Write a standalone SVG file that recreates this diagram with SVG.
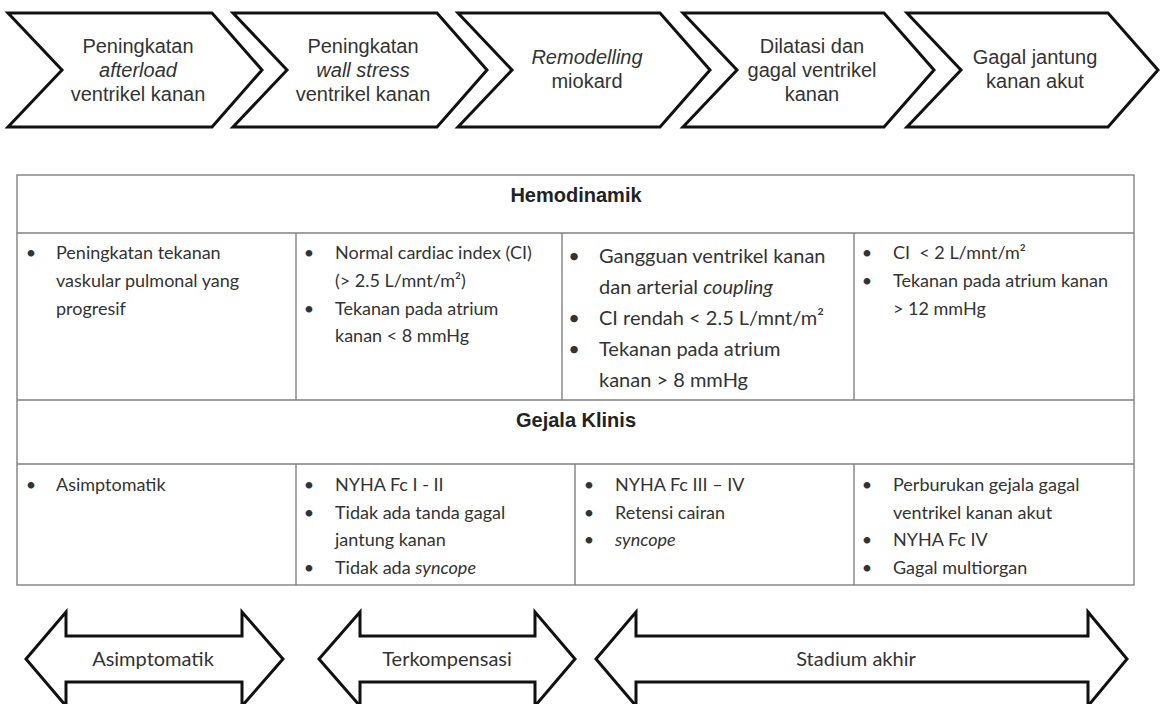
<svg xmlns="http://www.w3.org/2000/svg" width="1160" height="704" viewBox="0 0 1160 704">
<style>
.chev{fill:#fff;stroke:#111;stroke-width:3;stroke-linejoin:miter}
.ct{font-family:"Liberation Sans",Arial,sans-serif;font-size:20px;fill:#333;text-anchor:middle}
.it{font-style:italic}
.grid{fill:none;stroke:#808080;stroke-width:1.4}
.hd{font-family:"Liberation Sans",Arial,sans-serif;font-weight:bold;font-size:20px;fill:#222;text-anchor:middle}
.tx{font-family:Lato,"Open Sans",sans-serif;font-size:18px;fill:#333}
.tx2{font-family:Lato,"Open Sans",sans-serif;font-size:20px;fill:#333}
.bu{text-anchor:middle}
.arr{fill:#fff;stroke:#111;stroke-width:3;stroke-linejoin:miter}
.at{font-family:Lato,"Open Sans",sans-serif;font-size:20px;fill:#333;text-anchor:middle}
</style>
<rect width="1160" height="704" fill="#fff"/>

<g id="step1">
<polygon class="chev" points="8,13 212,13 262,70 212,127 8,127 62,70"/>
<text class="ct" x="138" y="53">Peningkatan</text>
<text class="ct it" x="138" y="77">afterload</text>
<text class="ct" x="138" y="101">ventrikel kanan</text>
</g>
<g id="step2">
<polygon class="chev" points="233,13 437,13 487,70 437,127 233,127 287,70"/>
<text class="ct" x="363" y="53">Peningkatan</text>
<text class="ct it" x="363" y="77">wall stress</text>
<text class="ct" x="363" y="101">ventrikel kanan</text>
</g>
<g id="step3">
<polygon class="chev" points="458,13 660,13 710,70 660,127 458,127 512,70"/>
<text class="ct it" x="587" y="64">Remodelling</text>
<text class="ct" x="587" y="88">miokard</text>
</g>
<g id="step4">
<polygon class="chev" points="683,13 884,13 934,70 884,127 683,127 737,70"/>
<text class="ct" x="812" y="53">Dilatasi dan</text>
<text class="ct" x="812" y="77">gagal ventrikel</text>
<text class="ct" x="812" y="101">kanan</text>
</g>
<g id="step5">
<polygon class="chev" points="907,13 1108,13 1158,70 1108,127 907,127 961,70"/>
<text class="ct" x="1035" y="64">Gagal jantung</text>
<text class="ct" x="1035" y="88">kanan akut</text>
</g>

<g id="table">
<rect class="grid" x="17" y="175" width="1117" height="410"/>
<line class="grid" x1="17" y1="233" x2="1134" y2="233"/>
<line class="grid" x1="17" y1="400" x2="1134" y2="400"/>
<line class="grid" x1="17" y1="464" x2="1134" y2="464"/>
<line class="grid" x1="296" y1="233" x2="296" y2="400"/>
<line class="grid" x1="562" y1="233" x2="562" y2="400"/>
<line class="grid" x1="854" y1="233" x2="854" y2="400"/>
<line class="grid" x1="296" y1="464" x2="296" y2="585"/>
<line class="grid" x1="575" y1="464" x2="575" y2="585"/>
<line class="grid" x1="854" y1="464" x2="854" y2="585"/>

<text class="hd" x="576" y="202">Hemodinamik</text>
<text class="hd" x="576" y="427">Gejala Klinis</text>

<g id="hemo1" class="tx">
<text class="bu" x="31" y="259">•</text>
<text x="56" y="259">Peningkatan tekanan</text>
<text x="56" y="287">vaskular pulmonal yang</text>
<text x="56" y="315">progresif</text>
</g>
<g id="hemo2" class="tx">
<text class="bu" x="309" y="259">•</text>
<text x="335" y="259">Normal cardiac index (CI)</text>
<text x="335" y="287">(&gt; 2.5 L/mnt/m²)</text>
<text class="bu" x="309" y="315">•</text>
<text x="335" y="315">Tekanan pada atrium</text>
<text x="335" y="342">kanan &lt; 8 mmHg</text>
</g>
<g id="hemo3" class="tx2">
<text class="bu" x="574" y="263">•</text>
<text x="599" y="263">Gangguan ventrikel kanan</text>
<text x="599" y="294">dan arterial <tspan class="it">coupling</tspan></text>
<text class="bu" x="574" y="325">•</text>
<text x="599" y="325">CI rendah &lt; 2.5 L/mnt/m²</text>
<text class="bu" x="574" y="356">•</text>
<text x="599" y="356">Tekanan pada atrium</text>
<text x="599" y="387">kanan &gt; 8 mmHg</text>
</g>
<g id="hemo4" class="tx">
<text class="bu" x="867" y="259">•</text>
<text x="893" y="259" xml:space="preserve">CI  &lt; 2 L/mnt/m²</text>
<text class="bu" x="867" y="287">•</text>
<text x="893" y="287">Tekanan pada atrium kanan</text>
<text x="893" y="315">&gt; 12 mmHg</text>
</g>

<g id="klinis1" class="tx">
<text class="bu" x="31" y="491">•</text>
<text x="56" y="491">Asimptomatik</text>
</g>
<g id="klinis2" class="tx">
<text class="bu" x="309" y="491">•</text>
<text x="335" y="491">NYHA Fc I - II</text>
<text class="bu" x="309" y="519">•</text>
<text x="335" y="519">Tidak ada tanda gagal</text>
<text x="335" y="546">jantung kanan</text>
<text class="bu" x="309" y="574">•</text>
<text x="335" y="574">Tidak ada <tspan class="it">syncope</tspan></text>
</g>
<g id="klinis3" class="tx">
<text class="bu" x="589" y="491">•</text>
<text x="615" y="491">NYHA Fc III – IV</text>
<text class="bu" x="589" y="519">•</text>
<text x="615" y="519">Retensi cairan</text>
<text class="bu" x="589" y="546">•</text>
<text x="615" y="546" class="it">syncope</text>
</g>
<g id="klinis4" class="tx">
<text class="bu" x="867" y="491">•</text>
<text x="893" y="491">Perburukan gejala gagal</text>
<text x="893" y="519">ventrikel kanan akut</text>
<text class="bu" x="867" y="546">•</text>
<text x="893" y="546">NYHA Fc IV</text>
<text class="bu" x="867" y="574">•</text>
<text x="893" y="574">Gagal multiorgan</text>
</g>
</g>

<g id="stage1">
<polygon class="arr" points="26,659 66,612 66,636 242,636 242,612 283,659 242,706 242,682 66,682 66,706"/>
<text class="at" x="153" y="666">Asimptomatik</text>
</g>
<g id="stage2">
<polygon class="arr" points="319,659 360,612 360,636 535,636 535,612 575,659 535,706 535,682 360,682 360,706"/>
<text class="at" x="447" y="666">Terkompensasi</text>
</g>
<g id="stage3">
<polygon class="arr" points="596,659 636,612 636,636 1088,636 1088,612 1127,659 1088,706 1088,682 636,682 636,706"/>
<text class="at" x="856" y="666">Stadium akhir</text>
</g>
<g id="connectors"/>
</svg>
